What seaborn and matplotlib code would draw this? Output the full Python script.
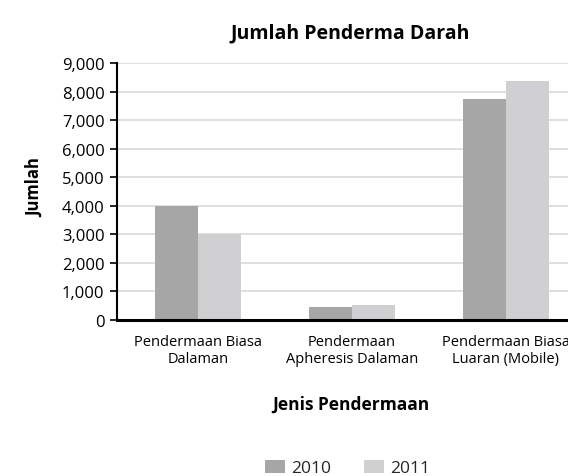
import matplotlib
matplotlib.use("Agg")
import matplotlib.pyplot as plt
import seaborn as sns
import pandas as pd
from matplotlib.ticker import FuncFormatter
from matplotlib.patches import Patch

categories = ["Pendermaan Biasa\nDalaman", "Pendermaan\nApheresis Dalaman", "Pendermaan Biasa\nLuaran (Mobile)"]
years = ["2010", "2011"]
values_2010 = [4000, 450, 7730]
values_2011 = [3000, 520, 8360]

df = pd.DataFrame({
    "Jenis": categories * 2,
    "Tahun": [years[0]] * 3 + [years[1]] * 3,
    "Jumlah": values_2010 + values_2011,
})

sns.set_theme(style="white")
plt.rcParams["font.family"] = ["Open Sans", "DejaVu Sans"]

colors = {"2010": "#A6A6A6", "2011": "#D0D0D2"}

fig = plt.figure(figsize=(5.68, 4.77), dpi=100)
ax = fig.add_axes([117/568, 1 - 321/477, 451/568, (321 - 64)/477])

sns.barplot(data=df, x="Jenis", y="Jumlah", hue="Tahun", palette=colors,
            width=0.56, saturation=1, linewidth=0, edgecolor="none", ax=ax, legend=False)

ax.set_ylim(0, 9000)
ax.set_xlim(-0.526, 2.403)
ax.set_yticks(range(0, 9001, 1000))
ax.yaxis.set_major_formatter(FuncFormatter(lambda v, p: f"{int(v):,}"))
ax.grid(axis="y", color="#D9D9D9", linewidth=1.2)
ax.set_axisbelow(True)

for s in ["top", "right"]:
    ax.spines[s].set_visible(False)
ax.spines["left"].set_color("black")
ax.spines["left"].set_linewidth(1.5)
ax.spines["bottom"].set_color("black")
ax.spines["bottom"].set_linewidth(2.2)

ax.tick_params(axis="y", which="major", left=True, length=5, width=1.2, color="black",
               labelsize=12, pad=4, labelcolor="black")
ax.tick_params(axis="x", bottom=False, labelsize=10.5, pad=4, labelcolor="black")
for lbl in ax.get_xticklabels():
    lbl.set_linespacing(1.2)
ax.set_xlabel("")
ax.set_ylabel("")

fig.text(350/568, 1 - 33/477, "Jumlah Penderma Darah", ha="center", va="center",
         fontsize=14, fontweight="bold", color="black")
fig.text(351/568, 1 - 405/477, "Jenis Pendermaan", ha="center", va="center",
         fontsize=12.5, fontweight="bold", color="black")
fig.text(35/568, 1 - 188/477, "Jumlah", ha="center", va="center", rotation=90,
         fontsize=12, fontweight="bold", color="black")

handles = [Patch(facecolor=colors[y], edgecolor="none", label=y) for y in years]
fig.legend(handles=handles, loc="center", bbox_to_anchor=(348/568, 1 - 469/477), ncol=2,
           frameon=False, fontsize=12.5, handlelength=1.15, handleheight=0.85,
           handletextpad=0.35, columnspacing=1.9)

fig.savefig("out.png", dpi=100)
